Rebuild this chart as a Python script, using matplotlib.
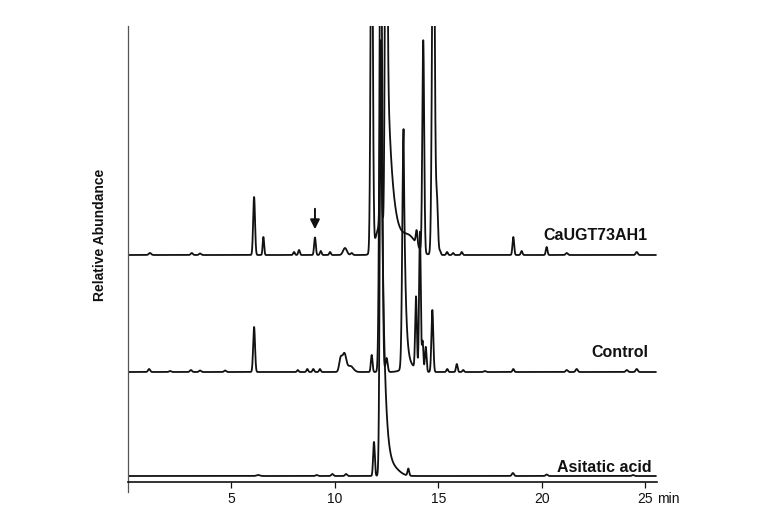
import numpy as np
import matplotlib
matplotlib.use("Agg")
import matplotlib.pyplot as plt
from matplotlib import font_manager

plt.rcParams['font.family'] = ['Liberation Sans', 'DejaVu Sans']
_names = {f.name for f in font_manager.fontManager.ttflist}
if 'Liberation Sans Narrow' in _names:
    label_family, label_size = ['Liberation Sans Narrow', 'Liberation Sans'], 13.2
else:
    label_family, label_size = ['Liberation Sans', 'DejaVu Sans'], 11.5

# ---- data: peak tables ----
# retention time [min], height, width sigma [min], exponential tail tau [min] (0 = none)
trace_names = ["CaUGT73AH1", "Control", "Asitatic acid"]
trace_offsets = [227, 110, 6]          # baseline level of each stacked trace

ugt_rt = [1.07, 3.09, 3.49, 6.10, 6.55, 8.03, 8.27, 9.04, 9.32, 9.77, 10.49, 10.81,
          11.78, 12.2, 12.22, 12.47, 12.47, 13.6, 13.95, 14.27, 14.76, 14.93,
          15.08, 15.42, 15.71, 16.13, 18.62, 19.02, 20.23, 21.2, 24.58]
ugt_h = [2, 2, 1.5, 58, 18, 3, 5, 17.5, 4, 3, 7, 2,
         420, 30, 185, 420, 230, 16, 14, 212, 420, 55,
         4, 3, 2, 3, 18, 4, 8, 2, 3]
ugt_w = [0.06, 0.05, 0.05, 0.045, 0.035, 0.04, 0.04, 0.04, 0.04, 0.04, 0.09, 0.05,
         0.05, 0.22, 0.04, 0.05, 0.02, 0.35, 0.04, 0.045, 0.06, 0.05,
         0.04, 0.04, 0.04, 0.04, 0.04, 0.04, 0.04, 0.05, 0.05]
ugt_tau = [0, 0, 0, 0, 0, 0, 0, 0, 0, 0, 0, 0,
           0, 0, 0, 0, 0.28, 0, 0, 0, 0, 0,
           0, 0, 0, 0, 0, 0, 0, 0, 0]

ctrl_rt = [1.03, 2.04, 3.05, 3.49, 4.7, 6.10, 8.21, 8.67, 8.96, 9.28, 10.28, 10.46, 10.75,
           11.78, 12.22, 12.5, 13.32, 13.6, 13.92, 14.11, 14.24, 14.39, 14.71,
           15.43, 15.89, 16.2, 17.25, 18.62, 21.2, 21.68, 24.1, 24.58]
ctrl_h = [3, 1, 2, 1.5, 1.5, 45, 2, 3, 3, 3, 13, 18, 6,
          17, 520, 14, 239, 6, 72, 139, 30, 25, 62,
          3, 8, 2, 1, 3, 2, 3, 2, 3]
ctrl_w = [0.05, 0.05, 0.05, 0.05, 0.05, 0.045, 0.04, 0.04, 0.04, 0.04, 0.07, 0.09, 0.14,
          0.04, 0.06, 0.05, 0.06, 0.3, 0.04, 0.04, 0.035, 0.04, 0.045,
          0.04, 0.04, 0.04, 0.05, 0.04, 0.05, 0.05, 0.05, 0.05]
ctrl_tau = [0, 0, 0, 0, 0, 0, 0, 0, 0, 0, 0, 0, 0,
            0, 0, 0, 0.09, 0, 0, 0, 0, 0, 0,
            0, 0, 0, 0, 0, 0, 0, 0, 0]

asa_rt = [6.3, 9.12, 9.88, 10.54, 11.89, 12.22, 12.85, 13.55, 18.6, 20.23, 24.4]
asa_h = [1, 1, 2, 2, 34, 406, 6, 7, 3, 1.5, 1]
asa_w = [0.08, 0.05, 0.05, 0.05, 0.04, 0.05, 0.3, 0.04, 0.05, 0.05, 0.05]
asa_tau = [0, 0, 0, 0, 0, 0.15, 0, 0, 0, 0, 0]

x_ticks = [5, 10, 15, 20, 25]
arrow_rt = 9.04

# ---- build traces from peak tables ----
t = np.arange(0.1, 25.5, 0.004)

def trace(rt, h, w, tau, off):
    y = np.full_like(t, float(off))
    for r, hh, ww, tt in zip(rt, h, w, tau):
        g = np.exp(-0.5 * ((t - r) / ww) ** 2)
        if tt > 0:
            right = t >= r
            g[right] = np.exp(-(t[right] - r) / tt)
        y += hh * g
    return y

traces = [trace(ugt_rt, ugt_h, ugt_w, ugt_tau, trace_offsets[0]),
          trace(ctrl_rt, ctrl_h, ctrl_w, ctrl_tau, trace_offsets[1]),
          trace(asa_rt, asa_h, asa_w, asa_tau, trace_offsets[2])]

fig = plt.figure(figsize=(7.6, 5.3), dpi=100)
ax = fig.add_axes([128 / 760, 1 - 482 / 530, (657 - 128) / 760, (482 - 26) / 530])

for y in traces:
    ax.plot(t, y, color='#111111', lw=1.3)

ax.set_xlim(0.01, 25.56)
ax.set_ylim(0, 456)

for s in ['top', 'right']:
    ax.spines[s].set_visible(False)
ax.spines['left'].set_color('#555555')
ax.spines['left'].set_linewidth(0.9)
ax.spines['bottom'].set_color('#111111')
ax.spines['bottom'].set_linewidth(1.2)
ax.plot([0, 0], [-10 / 456, 0], transform=ax.transAxes, color='#555555', lw=0.9, clip_on=False)

ax.set_yticks([])
ax.set_xticks(x_ticks)
ax.set_xticklabels([str(v) for v in x_ticks])
ax.tick_params(axis='x', direction='out', length=4.5, width=0.9, pad=3,
               labelsize=10, colors='#111111')

# labels
label_x = [25.08, 25.14, 25.32]
label_y = [242, 125, 10]
for name, lx, ly in zip(trace_names, label_x, label_y):
    ax.text(lx, ly, name, ha='right', va='baseline', fontsize=label_size, fontweight='bold',
            color='#111111', family=label_family)

ax.annotate('', xy=(arrow_rt, 250), xytext=(arrow_rt, 276),
            arrowprops=dict(arrowstyle='-|>', color='#111111', lw=1.4, mutation_scale=14))

fig.text(100 / 760, 1 - 235 / 530, 'Relative Abundance', rotation=90, ha='center',
         va='center', fontsize=10, fontweight='bold', color='#111111')
fig.text(657 / 760, 1 - 499 / 530, 'min', ha='left', va='center', fontsize=10,
         color='#111111')

fig.savefig('out.png', dpi=100, facecolor='white')
